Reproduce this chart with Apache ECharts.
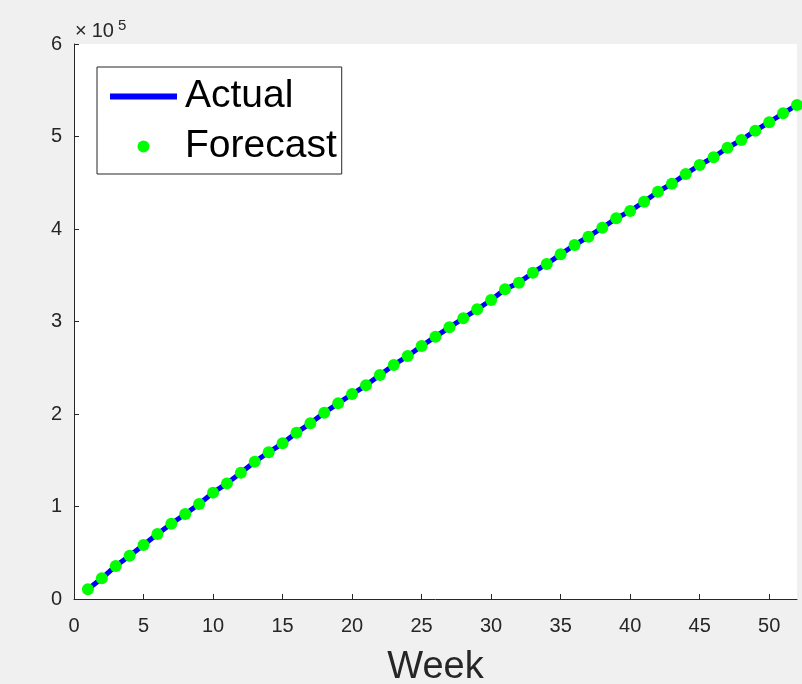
<!DOCTYPE html>
<html>
<head>
<meta charset="utf-8">
<script src="https://cdn.jsdelivr.net/npm/echarts@6/dist/echarts.min.js"></script>
<style>
html,body{margin:0;padding:0;background:#f0f0f0;}
#chart{width:802px;height:684px;}
</style>
</head>
<body>
<div id="chart"></div>
<script>
const weeks = [1,2,3,4,5,6,7,8,9,10,11,12,13,14,15,16,17,18,19,20,21,22,23,24,25,26,27,28,29,30,31,32,33,34,35,36,37,38,39,40,41,42,43,44,45,46,47,48,49,50,51,52];
const actual = [10500,22400,35700,46800,58400,70300,81400,91900,102700,115000,125000,136500,148400,158600,168300,179800,189900,201400,211500,221600,231000,242200,253000,262700,273500,283600,293700,303500,313200,323200,334800,342000,352800,362200,372600,382700,391700,401400,411500,419500,429500,440300,449000,459500,469200,477500,487900,496200,506300,515400,525100,534100];
const forecast = [10500,22400,35700,46800,58400,70300,81400,91900,102700,115000,125000,136500,148400,158600,168300,179800,189900,201400,211500,221600,231000,242200,253000,262700,273500,283600,293700,303500,313200,323200,334800,342000,352800,362200,372600,382700,391700,401400,411500,419500,429500,440300,449000,459500,469200,477500,487900,496200,506300,515400,525100,534100];
const xTicks = [0,5,10,15,20,25,30,35,40,45,50];
const yTicks = [0,100000,200000,300000,400000,500000,600000];

const FONT = '"Liberation Sans", Arial, sans-serif';
const AX = '#262626';

const chart = echarts.init(document.getElementById('chart'), null, {renderer:'canvas'});
chart.setOption({
  backgroundColor: '#f0f0f0',
  animation: false,
  textStyle: {fontFamily: FONT},
  grid: {left: 74, top: 44, right: 5, bottom: 85, show: true, backgroundColor: '#ffffff', borderWidth: 0,
         outerBoundsMode: 'none', containLabel: false},
  legend: {
    orient: 'vertical', left: 97, top: 67,
    padding: [10, 5, 8, 13],
    backgroundColor: '#ffffff', borderColor: '#262626', borderWidth: 1,
    itemWidth: 67, itemHeight: 12, itemGap: 11, symbolKeepAspect: true,
    textStyle: {fontSize: 39, color: '#000000', fontFamily: FONT, lineHeight: 39, padding: [0,0,0,3]},
    data: [{name: 'Actual', icon: 'path://M0,0H67V6H0Z'}, {name: 'Forecast', icon: 'circle'}]
  },
  xAxis: {
    type: 'value', min: 0, max: 52,
    name: 'Week', nameLocation: 'middle', nameGap: 50,
    nameTextStyle: {fontSize: 38, color: AX, fontFamily: FONT},
    axisLine: {show: true, onZero: false, lineStyle: {color: AX, width: 1}},
    axisTick: {show: true, inside: true, length: 5, lineStyle: {color: AX}, customValues: xTicks},
    axisLabel: {color: AX, fontSize: 20, margin: 17, fontFamily: FONT, customValues: xTicks},
    splitLine: {show: false}
  },
  yAxis: {
    type: 'value', min: 0, max: 600000, interval: 100000,
    name: '{x|×}{n|10}{s|5}', nameLocation: 'end', nameGap: -1,
    nameTextStyle: {align: 'left', padding: [0,0,0,0],
      rich: {x: {fontSize: 20, color: AX, fontFamily: FONT, padding: [0,5,0,1]},
             n: {fontSize: 20, color: AX, fontFamily: FONT},
             s: {fontSize: 15, color: AX, fontFamily: FONT, padding: [0,0,12,4]}}},
    axisLine: {show: true, onZero: false, lineStyle: {color: AX, width: 1}},
    axisTick: {show: true, inside: true, length: 5, lineStyle: {color: AX}, customValues: yTicks},
    axisLabel: {color: AX, fontSize: 20, margin: 12, fontFamily: FONT, formatter: v => String(v / 100000)},
    splitLine: {show: false}
  },
  series: [
    {name: 'Actual', type: 'line', data: weeks.map((w, i) => [w, actual[i]]),
     symbol: 'none', lineStyle: {color: '#0000ff', width: 5}, itemStyle: {color: '#0000ff'}, z: 2},
    {name: 'Forecast', type: 'scatter', data: weeks.map((w, i) => [w, forecast[i]]),
     symbol: 'circle', symbolSize: 12, itemStyle: {color: '#00ff00', opacity: 1}, z: 3}
  ]
});
</script>
</body>
</html>
